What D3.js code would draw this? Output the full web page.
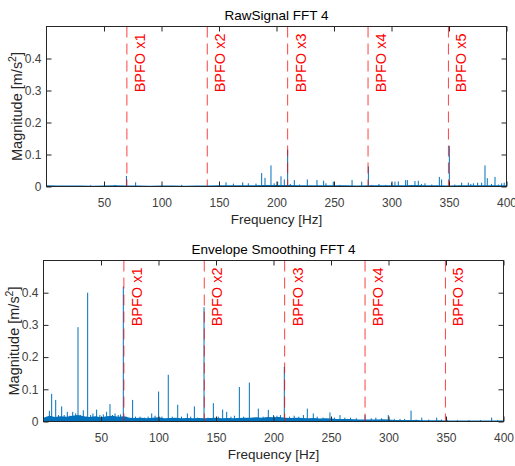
<!DOCTYPE html>
<html lang="en">
<head>
<meta charset="utf-8">
<title>FFT 4</title>
<script src="https://cdn.jsdelivr.net/npm/d3@7"></script>
<style>
  body { margin: 0; background: #fff; }
  svg { font-family: "Liberation Sans", Arial, sans-serif; }
  .tick line { stroke: #262626; }
  .tick text { fill: #404040; font-size: 12px; }
</style>
</head>
<body>
<script>

// ---- data ----
var xTicks = [50, 100, 150, 200, 250, 300, 350, 400];
var yTicks = [0, 0.1, 0.2, 0.3, 0.4];

var bpfoFreqs  = [69.9, 139.8, 209.7, 279.6, 349.5];
var bpfoLabels = ["BPFO x1", "BPFO x2", "BPFO x3", "BPFO x4", "BPFO x5"];

// raw signal spectrum: visible peaks
var rawPeakFreq = [38.4, 59.6, 69.5, 77.5, 117.5, 156.1, 162.5, 170.6, 175.5, 182.2,
  187.1, 190.0, 195.2, 198, 201.0, 203.9, 206.8, 209.7, 212, 215.5, 220, 226.8, 235.2,
  241.0, 243, 249.4, 255, 265.7, 274.1, 279.9, 283, 289.1, 295, 300.1, 303.0, 305.9,
  312.3, 313.8, 320.4, 323.3, 326, 329.1, 335, 341.6, 343.6, 350.3, 355, 361.0, 366.8,
  369, 371.2, 374.9, 378.4, 381.3, 383.3, 387, 390.0, 393, 395.8, 398];
var rawPeakMag = [0.004, 0.005, 0.033, 0.013, 0.005, 0.013, 0.009, 0.013, 0.01, 0.009,
  0.042, 0.027, 0.066, 0.01, 0.015, 0.032, 0.022, 0.115, 0.008, 0.02, 0.006, 0.022, 0.02,
  0.018, 0.01, 0.015, 0.005, 0.02, 0.015, 0.063, 0.005, 0.008, 0.005, 0.012, 0.015, 0.016,
  0.02, 0.02, 0.017, 0.018, 0.008, 0.01, 0.006, 0.03, 0.022, 0.127, 0.006, 0.012, 0.012,
  0.008, 0.01, 0.012, 0.012, 0.066, 0.026, 0.008, 0.03, 0.006, 0.01, 0.012];
// raw signal noise floor, every 10 Hz from 0 to 400
var rawFloorFreq = [0,10,20,30,40,50,60,70,80,90,100,110,120,130,140,150,160,170,180,190,200,
  210,220,230,240,250,260,270,280,290,300,310,320,330,340,350,360,370,380,390,400];
var rawFloorMag = [0.004,0.003,0.003,0.003,0.002,0.003,0.004,0.003,0.003,0.002,0.003,0.003,
  0.002,0.003,0.003,0.004,0.004,0.004,0.004,0.005,0.005,0.005,0.004,0.004,0.004,0.004,0.004,
  0.003,0.004,0.004,0.004,0.004,0.005,0.004,0.004,0.003,0.004,0.004,0.004,0.004,0.004];

// envelope spectrum: visible peaks
var envPeakFreq = [5.1, 7.1, 10.6, 13, 15.8, 18, 20.7, 23, 25.4, 28, 30.0, 32, 34.6, 38.4,
  41, 43, 46.2, 49, 52, 54.9, 57.8, 60, 62.2, 65, 67, 69.4, 72, 77.5, 80, 84, 88, 91, 94.1,
  97, 100.1, 103, 108.5, 112, 116.7, 120, 125.1, 128, 131.2, 134, 139.6, 143, 147.7, 152,
  155.8, 159.3, 163, 166, 170.3, 174, 179.0, 183, 186.8, 191, 195.5, 200, 203, 206, 209.4,
  214, 218, 222, 226, 229.4, 234.6, 238, 243, 249.1, 253, 257.8, 262, 267, 272, 279.6, 285,
  289, 294, 299.8, 305, 310, 314, 319.6, 324, 328.9, 335, 341.9, 346, 351, 360, 370, 380,
  389.7, 395];
var envPeakMag = [0.033, 0.086, 0.067, 0.02, 0.047, 0.02, 0.03, 0.018, 0.03, 0.025, 0.293,
  0.02, 0.035, 0.40, 0.02, 0.025, 0.037, 0.02, 0.022, 0.03, 0.054, 0.02, 0.025, 0.02, 0.022,
  0.419, 0.015, 0.067, 0.015, 0.015, 0.012, 0.015, 0.025, 0.018, 0.093, 0.015, 0.145, 0.015,
  0.052, 0.015, 0.025, 0.015, 0.047, 0.012, 0.355, 0.012, 0.057, 0.015, 0.037, 0.03, 0.015,
  0.018, 0.107, 0.015, 0.121, 0.012, 0.04, 0.015, 0.036, 0.02, 0.018, 0.02, 0.17, 0.015,
  0.018, 0.015, 0.02, 0.04, 0.025, 0.015, 0.012, 0.028, 0.012, 0.02, 0.012, 0.012, 0.01,
  0.02, 0.01, 0.012, 0.01, 0.02, 0.008, 0.008, 0.008, 0.034, 0.006, 0.012, 0.006, 0.012,
  0.006, 0.005, 0.004, 0.004, 0.004, 0.012, 0.004];
// envelope noise floor, every 5 Hz from 0 to 400
var envFloorFreq = [0,5,10,15,20,25,30,35,40,45,50,55,60,65,70,75,80,85,90,95,100,105,110,
  115,120,125,130,135,140,145,150,155,160,165,170,175,180,185,190,195,200,205,210,215,220,
  225,230,235,240,245,250,255,260,265,270,275,280,285,290,295,300,305,310,315,320,325,330,
  335,340,345,350,355,360,365,370,375,380,385,390,395,400];
var envFloorMag = [0.012,0.018,0.014,0.016,0.015,0.018,0.02,0.016,0.014,0.016,0.013,0.016,
  0.018,0.015,0.016,0.012,0.011,0.012,0.01,0.012,0.013,0.01,0.011,0.012,0.01,0.011,0.01,
  0.011,0.01,0.011,0.012,0.01,0.011,0.01,0.011,0.012,0.012,0.013,0.012,0.014,0.013,0.014,
  0.012,0.011,0.012,0.011,0.01,0.011,0.009,0.01,0.009,0.008,0.008,0.008,0.007,0.006,0.006,
  0.006,0.006,0.007,0.006,0.005,0.005,0.005,0.005,0.005,0.004,0.004,0.004,0.004,0.003,0.003,
  0.003,0.003,0.003,0.003,0.003,0.003,0.003,0.003,0.003];

var width = 515, height = 466;
var blue = "#0072bd";

var svg = d3.select("body").append("svg")
  .attr("width", width)
  .attr("height", height);

drawPanel({
  title: "RawSignal FFT 4",
  left: 46.5, right: 506.5, top: 26.5, bottom: 186.5,
  peakFreq: rawPeakFreq, peakMag: rawPeakMag,
  floorFreq: rawFloorFreq, floorMag: rawFloorMag
});

drawPanel({
  title: "Envelope Smoothing FFT 4",
  left: 43.5, right: 503.5, top: 260.5, bottom: 421.5,
  peakFreq: envPeakFreq, peakMag: envPeakMag,
  floorFreq: envFloorFreq, floorMag: envFloorMag
});

function drawPanel(p) {
  var x = d3.scaleLinear().domain([0, 400]).range([p.left, p.right]);
  var y = d3.scaleLinear().domain([0, 0.5]).range([p.bottom, p.top]);

  var g = svg.append("g");

  // noise floor as a filled band
  var floor = p.floorFreq.map(function(f, i) { return [f, p.floorMag[i]]; });
  g.append("path")
    .datum(floor)
    .attr("fill", blue)
    .attr("d", d3.area()
      .x(function(d) { return x(d[0]); })
      .y0(y(0))
      .y1(function(d) { return y(d[1]); }));

  // peaks
  var peaks = p.peakFreq.map(function(f, i) { return [f, p.peakMag[i]]; });
  g.append("g").selectAll("line")
    .data(peaks)
    .enter().append("line")
    .attr("x1", function(d) { return x(d[0]); })
    .attr("x2", function(d) { return x(d[0]); })
    .attr("y1", y(0))
    .attr("y2", function(d) { return y(d[1]); })
    .attr("stroke", blue)
    .attr("stroke-width", 1);

  // BPFO harmonics
  var marks = g.append("g").selectAll("g")
    .data(bpfoFreqs)
    .enter().append("g");
  marks.append("line")
    .attr("x1", function(d) { return x(d); })
    .attr("x2", function(d) { return x(d); })
    .attr("y1", p.top)
    .attr("y2", p.bottom)
    .attr("stroke", "#ff0000")
    .attr("stroke-opacity", 0.75)
    .attr("stroke-dasharray", "11,6");
  marks.append("text")
    .attr("transform", function(d) {
      return "translate(" + (x(d) + 18) + "," + (p.top + 7) + ") rotate(-90)";
    })
    .attr("text-anchor", "end")
    .attr("fill", "#ff0000")
    .style("font-size", "14.5px")
    .text(function(d, i) { return bpfoLabels[i]; });

  // axes, ticks pointing inward
  g.append("g")
    .attr("transform", "translate(0," + p.bottom + ")")
    .call(d3.axisBottom(x).tickValues(xTicks).tickSizeInner(-5).tickSizeOuter(0).tickPadding(12))
    .call(function(a) { a.select(".domain").remove(); });
  g.append("g")
    .attr("transform", "translate(0," + p.top + ")")
    .call(d3.axisTop(x).tickValues(xTicks).tickSizeInner(-5).tickSizeOuter(0).tickFormat(""))
    .call(function(a) { a.select(".domain").remove(); });
  g.append("g")
    .attr("transform", "translate(" + p.left + ",0)")
    .call(d3.axisLeft(y).tickValues(yTicks).tickSizeInner(-5).tickSizeOuter(0).tickPadding(5)
      .tickFormat(d3.format("~g")))
    .call(function(a) { a.select(".domain").remove(); });
  g.append("g")
    .attr("transform", "translate(" + p.right + ",0)")
    .call(d3.axisRight(y).tickValues(yTicks).tickSizeInner(-5).tickSizeOuter(0).tickFormat(""))
    .call(function(a) { a.select(".domain").remove(); });

  g.selectAll(".tick text").attr("font-family", null).attr("font-size", null);

  // box
  g.append("rect")
    .attr("x", p.left).attr("y", p.top)
    .attr("width", p.right - p.left).attr("height", p.bottom - p.top)
    .attr("fill", "none")
    .attr("stroke", "#262626");

  // title + labels
  g.append("text")
    .attr("x", (p.left + p.right) / 2)
    .attr("y", p.top - 7)
    .attr("text-anchor", "middle")
    .attr("fill", "#000")
    .style("font-size", "13.5px")
    .text(p.title);

  g.append("text")
    .attr("x", (p.left + p.right) / 2)
    .attr("y", p.bottom + 37)
    .attr("text-anchor", "middle")
    .attr("fill", "#262626")
    .style("font-size", "13.5px")
    .text("Frequency [Hz]");

  var yl = g.append("text")
    .attr("transform", "translate(" + (p.left - 24.5) + "," + ((p.top + p.bottom) / 2) + ") rotate(-90)")
    .attr("text-anchor", "middle")
    .attr("fill", "#262626")
    .style("font-size", "14.5px");
  yl.append("tspan").text("Magnitude [m/s");
  yl.append("tspan").attr("dy", -6).style("font-size", "10.5px").text("2");
  yl.append("tspan").attr("dy", 6).text("]");
}
</script>
</body>
</html>
